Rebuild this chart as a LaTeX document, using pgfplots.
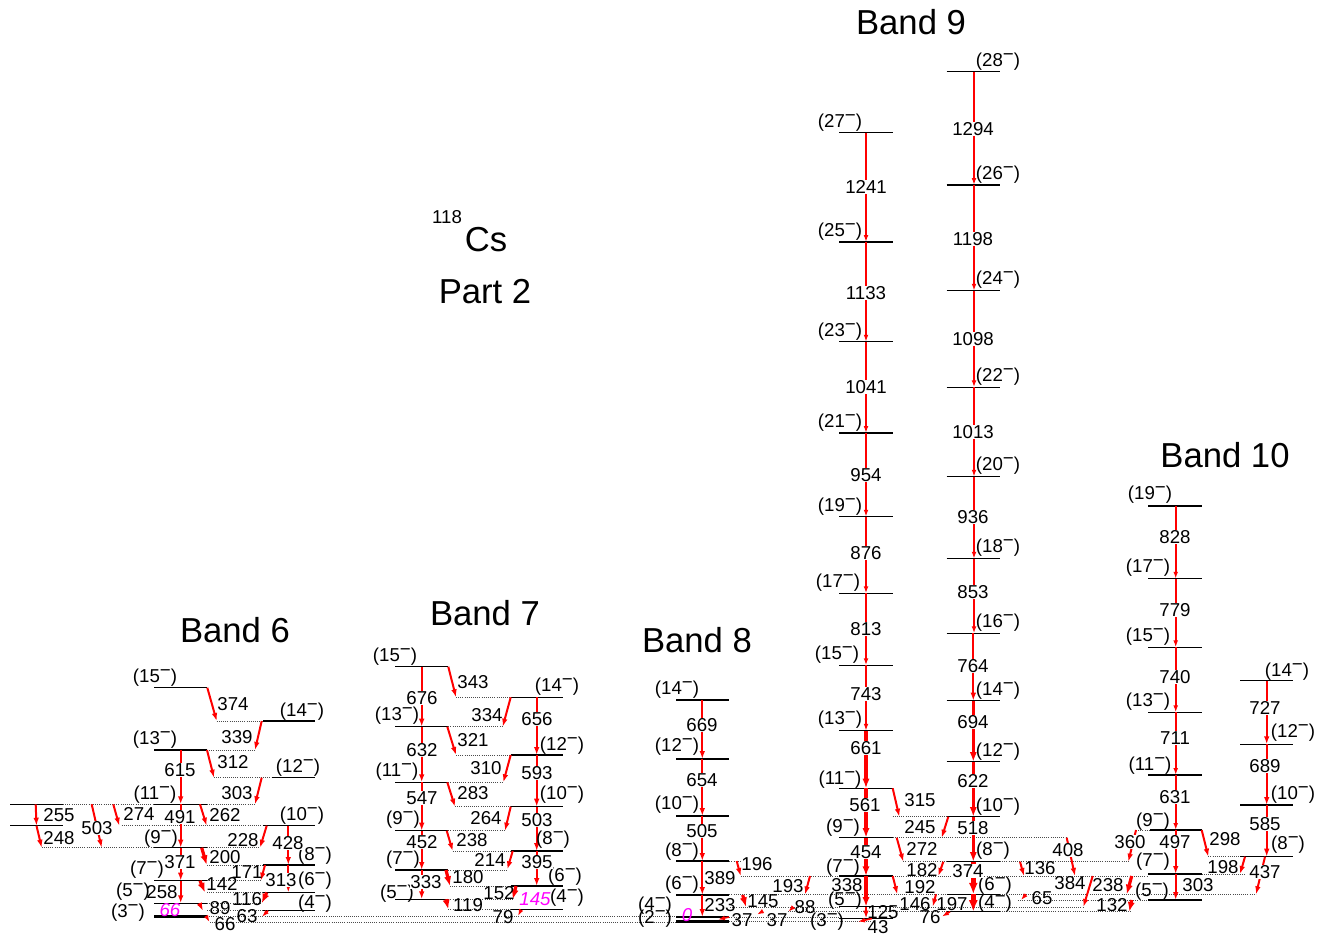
\documentclass[border=0pt]{standalone}
\usepackage{pgfplots}
\pgfplotsset{compat=1.18}
\usepackage{pgfplotstable}
\usepackage{fontspec}
\setmainfont{Liberation Sans}
\usetikzlibrary{arrows.meta}
\newcommand\J[1]{(#1\raisebox{0.36em}[0pt][0pt]{−})}
\definecolor{arr}{RGB}{255,0,0}
\definecolor{mag}{RGB}{255,0,255}

% ---------- level lines (solid) ----------
\pgfplotstableread{
xa ya xb
154 687.7 207
263 721 315
154 750 207
271.7 777.7 315
154 804.3 207
10 804.3 63
10 825.7 63
263 825.7 315
154 847.7 207
263 865 315
154 880.7 207
263 892.5 315
154 903.3 207
263 910.7 315
395 666.7 448.3
510.7 697.3 562.7
395 726.7 448.3
510.7 755 562.7
395 782.3 448.3
510.7 806.7 562.7
395 830.7 448.3
510.7 851 562.7
395 870 448.3
510.7 886 562.7
395 899.3 448.3
510.7 909.3 562.7
676 700 729.3
676 759 729.3
676 816 729.3
676 861 729.3
676 895 729.3
676 917 729.3
839.3 132.7 892.7
839.3 242 892.7
839.3 341.7 892.7
839.3 433 892.7
839.3 516.7 892.7
839.3 593.3 892.7
839.3 665.3 892.7
839.3 730.7 892.7
839.3 788.3 892.7
839.3 837.7 892.7
839.3 876 892.7
839.3 906.7 892.7
839.3 918.5 892.7
946.7 71.7 1000
946.7 185 1000
946.7 290.7 1000
946.7 387.3 1000
946.7 476.7 1000
946.7 558.7 1000
946.7 633.3 1000
946.7 700.7 1000
946.7 761.7 1000
946.7 816.7 1000
946.7 861.7 1000
946.7 894.3 1000
946.7 911.7 1000
1148.3 506 1201.7
1148.3 578.7 1201.7
1148.3 647.3 1201.7
1148.3 712.3 1201.7
1148.3 775 1201.7
1150 830 1201.7
1148.3 874 1201.7
1148.3 900 1201.7
1240 680.7 1293.3
1240 744.3 1293.3
1240 805 1293.3
1240 856.7 1293.3
}\levels

\pgfplotstableread{
xa ya xb
154 916.7 207
676 921.7 729.3
}\groundlevels

% ---------- dotted extensions ----------
\pgfplotstableread{
xa ya xb
216.7 721 263
207 750 255
214 777.7 271.7
63 804.3 154
207 804.3 255
121.7 825.7 263
41.7 847.7 154
207 847.7 260
207 865 263
207 880.7 262
207 892.5 263
207 903.3 262
207 910.7 263
207 916.7 676
210 922 676
456 697.3 510.7
448.3 726.7 502.7
456 755 510.7
448.3 782.3 503.3
455 806.7 510.7
448.3 830.7 505
452.7 851 510.7
448.3 870 507.3
450 886 510.7
448.3 899.3 512.7
448.3 909.3 510.7
729.3 861 740
740.7 876 839.3
729.3 894.5 946.7
730 907 839.3
788 911.7 946.7
729.3 917 839.3
729.3 921.7 872
892.7 816.7 946.7
892.7 837.7 1066.7
903.3 861.7 946.7
1000 861.7 1130
892.7 876 1148.3
1000 894.3 1256
892.7 907 1083.3
1018 900 1148.3
1000 911.7 1131.7
1136 830 1150
1208.3 856.7 1240
1201.7 874 1245
}\dotted

% ---------- transitions ----------
% thin
\pgfplotstableread{
xa ya xb yb
268 910.7 262 916.7
206.5 916.7 209.5 922
521 910 518 916
729 917 718 919.5
762 911.7 757 914.5
793.3 907 788.3 911.7
866 132.7 866 242
866 242 866 341.7
866 341.7 866 433
866 433 866 516.7
866 516.7 866 593.3
866 593.3 866 665.3
866 665.3 866 730.7
974 71.7 974 185
974 185 974 290.7
974 290.7 974 387.3
974 387.3 974 476.7
974 476.7 974 558.7
974 558.7 974 633.3
950 911.7 942 916.5
872 918.5 858 921.7
1026 894.3 1021 900
1175.7 506 1175.7 578.7
1175.7 578.7 1175.7 647.3
1175.7 647.3 1175.7 712.3
1175.7 712.3 1175.7 775
1175.7 775 1175.7 830
}\arrA
% medium
\pgfplotstableread{
xa ya xb yb
207.3 687.7 216.7 721
261.7 721 255 750
207 750 214 777.7
180.7 750 180.7 804.3
261.7 777.7 255 804.3
35.7 804.3 36.5 825.7
36.5 825.7 41.7 847.7
91.7 804.3 101.7 847.7
113.3 804.3 119.3 825.7
200 804.3 206.7 825.7
180.7 804.3 180.7 847.7
266.7 825.7 260 847.7
288.3 825.7 288.3 865
180.7 847.7 180.7 880.7
180.7 880.7 180.7 903.3
265 865 260.7 880.7
288.3 865 288.3 892.5
199.3 903.3 203 910.7
421.7 666.7 421.7 726.7
421.7 726.7 421.7 782.3
421.7 782.3 421.7 830.7
421.7 830.7 421.7 870
421.7 870 421.7 899.3
536.7 697.3 536.7 755
536.7 755 536.7 806.7
536.7 806.7 536.7 851
536.7 851 536.7 886
448.3 666.7 456 697.3
510.7 697.3 502.7 726.7
447.3 726.7 456 755
510.7 755 503.3 782.3
447.3 782.3 455 806.7
510.7 806.7 505 830.7
446.7 830.7 452.7 851
512.7 851 507.3 869.3
702.3 700 702.3 759
702.3 759 702.3 816
702.3 816 702.3 861
702.3 861 702.3 895
702.3 895 702.3 917
736.7 861 740.7 876
810 876 805 894.5
866 906.7 866 918.5
973.3 633.3 973.3 700.7
892.7 788.3 899.3 816.7
948.3 816.7 941.7 837.7
896.7 837.7 903.3 861.7
943.3 861.7 938.3 876
892.7 876 897.3 894.3
936 894.3 932.7 906.7
1020 861.7 1024 876
1066.7 837.7 1075 876
1092.7 876 1083.3 907
1175.7 830 1175.7 874
1175.7 874 1175.7 900
1266.7 680.7 1266.7 744.3
1266.7 744.3 1266.7 805
1266.7 805 1266.7 856.7
1265 856.7 1256 894.3
1201.7 830 1208.3 856.7
1245 856.7 1240 874
1136 830 1128.3 861.7
}\arrB
% thick
\pgfplotstableread{
xa ya xb yb
201.7 847.7 206.7 865
200 880.7 205 892.5
266.7 892.5 261.7 903.3
446 870 450 886
516 886 512.7 899.3
446 899.3 448.3 909.3
742.7 895 746 907
866 730.7 866 788.3
866 788.3 866 837.7
866 837.7 866 876
866 876 866 906.7
973.3 700.7 973.3 761.7
973.3 761.7 973.3 816.7
973.3 816.7 973.3 861.7
1131.7 876 1126.7 894.3
1131.7 900 1129.3 911.7
}\arrC
% very thick
\pgfplotstableread{
xa ya xb yb
973.3 861.7 973.3 894.3
973.3 894.3 973.3 911.7
}\arrD

% ---------- labels ----------
% spins and energies not lying on a line
\pgfplotstableread{
x y t
155 678 \J{15}
302 712 \J{14}
155 740 \J{13}
298 768 \J{12}
155 795 \J{11}
302 816 \J{10}
161 839 \J{9}
315 856 \J{8}
147 870 \J{7}
315 881 \J{6}
133 892 \J{5}
315 904 \J{4}
128 913 \J{3}
395 657 \J{15}
557 687 \J{14}
397 716 \J{13}
562 746 \J{12}
397 772 \J{11}
562 795 \J{10}
403 820 \J{9}
553 840 \J{8}
403 860 \J{7}
565 877 \J{6}
397 894 \J{5}
567 898 \J{4}
677 690 \J{14}
677 747 \J{12}
677 805 \J{10}
682 852 \J{8}
682 885 \J{6}
655 906 \J{4}
655 919 \J{2}
840 123 \J{27}
840 232 \J{25}
840 332 \J{23}
840 423 \J{21}
840 507 \J{19}
838 583 \J{17}
837 655 \J{15}
840 720 \J{13}
840 780 \J{11}
843 828 \J{9}
843 868 \J{7}
845 901 \J{5}
827 922 \J{3}
998 62 \J{28}
998 175 \J{26}
998 280 \J{24}
998 377 \J{22}
998 466 \J{20}
998 548 \J{18}
998 623 \J{16}
998 691 \J{14}
998 752 \J{12}
998 807 \J{10}
993 851 \J{8}
995 886 \J{6}
995 904 \J{4}
1150 495 \J{19}
1148 568 \J{17}
1148 637 \J{15}
1148 702 \J{13}
1150 766 \J{11}
1153 822 \J{9}
1153 862 \J{7}
1152 892 \J{5}
1287 672 \J{14}
1293 733 \J{12}
1293 795 \J{10}
1288 845 \J{8}
447 217 118
233 704 374
237 737 339
233 762 312
237 793 303
59 815 255
59 838 248
139 814 274
225 815 262
243 840 228
225 857 200
222 884 142
247 872 171
247 899 116
220 908 89
247 916 63
225 924 66
162 892 258
473 682 343
487 715 334
473 740 321
486 768 310
473 793 283
486 818 264
472 840 238
490 860 214
468 877 180
499 893 152
468 905 119
503 917 79
720 878 389
720 905 233
757 864 196
788 886 193
763 901 145
805 907 88
742 920 37
777 920 37
847 885 338
883 912 125
878 927 43
920 800 315
920 827 245
922 849 272
922 870 182
920 887 192
915 904 146
952 904 197
930 917 76
1040 868 136
1042 898 65
1070 883 384
1198 885 303
1225 839 298
1223 867 198
1108 885 238
1112 905 132
}\labels

% energies lying on a transition line (white background)
\pgfplotstableread{
x y t
180 770 615
180 817 491
97 828 503
288 843 428
281 880 313
180 862 371
422 698 676
422 750 632
422 798 547
422 842 452
426 882 333
537 719 656
537 773 593
537 820 503
537 862 395
702 725 669
702 780 654
702 831 505
866 187 1241
866 293 1133
866 387 1041
866 475 954
866 553 876
866 629 813
866 694 743
866 748 661
865 805 561
866 852 454
973 129 1294
973 239 1198
973 339 1098
973 432 1013
973 517 936
973 592 853
973 666 764
973 722 694
973 781 622
973 828 518
968 871 374
1068 850 408
1175 537 828
1175 610 779
1175 677 740
1175 738 711
1175 797 631
1175 842 497
1265 708 727
1265 766 689
1265 824 585
1265 872 437
1130 842 360
}\onlabels

\pgfplotstableread{
x y t
170 910 66
535 899 145
687 915 0
}\maglabels

\pgfplotstableread{
x y t
235 630 {Band 6}
485 613 {Band 7}
697 640 {Band 8}
911 22 {Band 9}
1225 455 {Band 10}
486 240 Cs
485 292 {Part 2}
}\biglabels

\pgfplotsset{
  lbl/.style={draw=none, nodes near coords, point meta=explicit symbolic,
    every node near coord/.append style={anchor=center, inner sep=0.3pt,
      font=\fontsize{7}{8}\selectfont}},
  arrowplot/.style={draw=arr, color=arr, quiver={u=\thisrow{xb}-\thisrow{xa}, v=\thisrow{yb}-\thisrow{ya}}},
}

\begin{document}
\begin{tikzpicture}
\begin{axis}[
  width=498.375pt, height=350.25pt, scale only axis,
  xmin=0, xmax=1329, ymin=0, ymax=934, y dir=reverse,
  hide axis, clip=false,
]
\addplot[black!70, line width=0.35pt, dash pattern=on 0.35pt off 0.45pt,
  quiver={u=\thisrow{xb}-\thisrow{xa}, v=0}] table[x=xa, y=ya] \dotted;
\addplot[black, line width=0.4pt,
  quiver={u=\thisrow{xb}-\thisrow{xa}, v=0}] table[x=xa, y=ya] \levels;
\addplot[black, line width=1pt,
  quiver={u=\thisrow{xb}-\thisrow{xa}, v=0}] table[x=xa, y=ya] \groundlevels;

\addplot[arrowplot, line width=0.6pt, -{Latex[length=2.6pt,width=1.8pt]}] table[x=xa, y=ya] \arrA;
\addplot[arrowplot, line width=0.75pt, -{Latex[length=3pt,width=2.1pt]}] table[x=xa, y=ya] \arrB;
\addplot[arrowplot, line width=1.2pt, -{Latex[length=3.6pt,width=2.7pt]}] table[x=xa, y=ya] \arrC;
\addplot[arrowplot, line width=1.9pt, -{Latex[length=4.3pt,width=3.4pt]}] table[x=xa, y=ya] \arrD;

\addplot[lbl] table[meta=t] \labels;
\addplot[lbl, every node near coord/.append style={fill=white}] table[meta=t] \onlabels;
\addplot[lbl, every node near coord/.append style={text=mag, font=\fontsize{7}{8}\selectfont\itshape}] table[meta=t] \maglabels;
\addplot[lbl, every node near coord/.append style={font=\fontsize{13}{15}\selectfont}] table[meta=t] \biglabels;
\end{axis}
\pgfresetboundingbox
\path (current axis.south west) rectangle (current axis.north east);
\end{tikzpicture}
\end{document}
